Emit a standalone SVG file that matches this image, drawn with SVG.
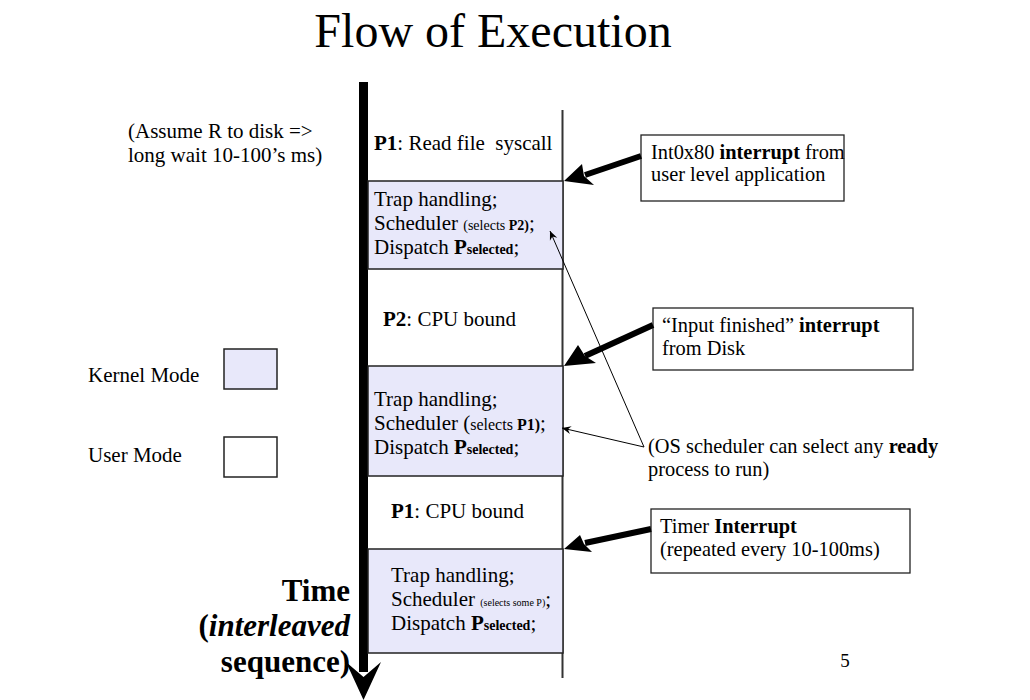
<svg xmlns="http://www.w3.org/2000/svg" width="1030" height="700" viewBox="0 0 1030 700">
<defs>
<style>
text{font-family:"Liberation Serif","Times New Roman",serif;fill:#000}
.t{font-size:21px}
.s{font-size:20.4px}
.b{font-weight:bold}
.k{fill:#e8e8fa;stroke:#222;stroke-width:1.5}
.u{fill:#fff;stroke:#222;stroke-width:1.5}
.cb{fill:#fff;stroke:#222;stroke-width:1.3}
.thick{stroke:#000;stroke-width:6;fill:none}
.thin{stroke:#000;stroke-width:1;fill:none}
</style>
<marker id="ah" markerWidth="10" markerHeight="10" refX="9" refY="5" orient="auto" markerUnits="userSpaceOnUse">
<path d="M0,1 L9,5 L0,9 L3,5 Z" fill="#000"/>
</marker>
</defs>
<rect width="1030" height="700" fill="#fff"/>
<text x="493" y="47" font-size="48" text-anchor="middle">Flow of Execution</text>

<g id="note-assume">
<text class="t" x="128" y="138">(Assume R to disk =&gt;</text>
<text class="t" x="128" y="162">long wait 10-100’s ms)</text>
</g>

<g id="legend-kernel">
<text class="t" x="88" y="382">Kernel Mode</text>
<rect class="k" x="224" y="349" width="53" height="40"/>
</g>
<g id="legend-user">
<text class="t" x="88" y="462">User Mode</text>
<rect class="u" x="224" y="437" width="53" height="40"/>
</g>

<g id="timeline">
<line x1="562.5" y1="110" x2="562.5" y2="678" stroke="#333" stroke-width="2"/>
<rect x="359" y="82" width="9" height="590" fill="#000"/>
<path d="M346,662 L363.5,677 L381,662 L363.5,700 Z" fill="#000"/>
</g>

<g id="time-label">
<text x="350" y="601" font-size="31" font-weight="bold" text-anchor="end">Time</text>
<text x="350" y="636" font-size="31" font-weight="bold" text-anchor="end">(<tspan font-style="italic">interleaved</tspan></text>
<text x="350" y="672" font-size="31" font-weight="bold" text-anchor="end">sequence)</text>
</g>

<g id="p1-read">
<text class="t" x="374" y="150" xml:space="preserve"><tspan class="b">P1</tspan>: Read file  syscall</text>
</g>
<g id="kernel1">
<rect class="k" x="368" y="181" width="195" height="88"/>
<text class="t" x="374" y="206">Trap handling;</text>
<text class="t" x="374" y="230">Scheduler <tspan font-size="14">(selects <tspan class="b">P2)</tspan></tspan>;</text>
<text class="t" x="374" y="254">Dispatch <tspan class="b">P<tspan font-size="14">selected</tspan></tspan>;</text>
</g>
<g id="p2-cpu">
<text class="t" x="383" y="326"><tspan class="b">P2</tspan>: CPU bound</text>
</g>
<g id="kernel2">
<rect class="k" x="368" y="366" width="195" height="110"/>
<text class="t" x="374" y="406">Trap handling;</text>
<text class="t" x="374" y="430">Scheduler (<tspan font-size="16">selects <tspan class="b">P1)</tspan></tspan>;</text>
<text class="t" x="374" y="454">Dispatch <tspan class="b">P<tspan font-size="14">selected</tspan></tspan>;</text>
</g>
<g id="p1-cpu">
<text class="t" x="391" y="518"><tspan class="b">P1</tspan>: CPU bound</text>
</g>
<g id="kernel3">
<rect class="k" x="368" y="549" width="195" height="104"/>
<text class="t" x="391" y="582">Trap handling;</text>
<text class="t" x="391" y="606">Scheduler <tspan font-size="10">(selects some P)</tspan>;</text>
<text class="t" x="391" y="630">Dispatch <tspan class="b">P<tspan font-size="14">selected</tspan></tspan>;</text>
</g>

<g id="int-syscall">
<rect class="cb" x="641" y="135" width="203" height="66"/>
<text class="s" x="651" y="159">Int0x80 <tspan class="b">interrupt</tspan> from</text>
<text class="s" x="651" y="181">user level application</text>
</g>
<g id="int-disk">
<rect class="cb" x="653" y="308" width="260" height="62"/>
<text class="s" x="662" y="332">“Input finished” <tspan class="b">interrupt</tspan></text>
<text class="s" x="662" y="355">from Disk</text>
</g>
<g id="int-timer">
<rect class="cb" x="651" y="509" width="259" height="64"/>
<text class="s" x="660" y="533">Timer <tspan class="b">Interrupt</tspan></text>
<text class="s" x="660" y="556">(repeated every 10-100ms)</text>
</g>
<g id="note-os">
<text class="s" x="648" y="453">(OS scheduler can select any <tspan class="b">ready</tspan></text>
<text class="s" x="648" y="476">process to run)</text>
</g>

<g id="connectors">
<line class="thick" x1="641" y1="156" x2="585" y2="175"/>
<path d="M564,181 L582,164 L584,176 L594,185 Z" fill="#000"/>
<line class="thick" x1="653" y1="325" x2="585" y2="356"/>
<path d="M564,366 L578,345 L585,356 L596,363 Z" fill="#000"/>
<line class="thick" x1="651" y1="529" x2="585" y2="543"/>
<path d="M564,549 L580,535 L584,544 L592,552 Z" fill="#000"/>
<line class="thin" x1="644" y1="447" x2="550" y2="231" marker-end="url(#ah)"/>
<line class="thin" x1="644" y1="447" x2="562" y2="428" marker-end="url(#ah)"/>
</g>
<text x="845" y="667" font-size="19" text-anchor="middle">5</text>
</svg>
